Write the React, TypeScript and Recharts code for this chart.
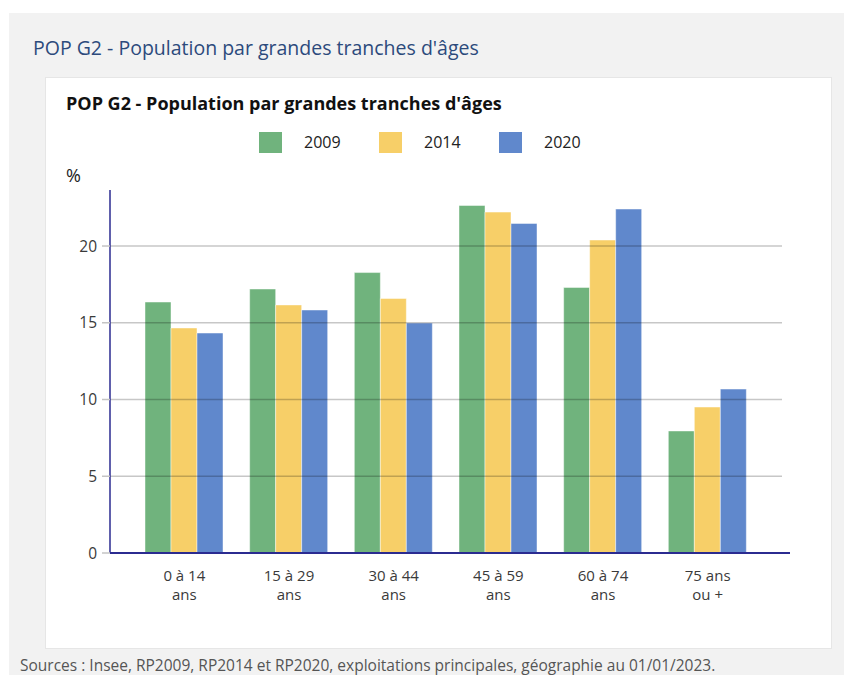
import React from 'react'
import { BarChart, Bar, XAxis, YAxis, ReferenceLine } from 'recharts'

const categories = ['0 à 14\nans', '15 à 29\nans', '30 à 44\nans', '45 à 59\nans', '60 à 74\nans', '75 ans\nou +']
const values2009 = [16.35, 17.2, 18.27, 22.64, 17.3, 7.95]
const values2014 = [14.66, 16.16, 16.58, 22.21, 20.39, 9.51]
const values2020 = [14.33, 15.83, 14.98, 21.47, 22.41, 10.68]
const years = ['2009', '2014', '2020']
const yTicks = [0, 5, 10, 15, 20]

const colors = ['#70b37d', '#f7cf68', '#6088cc']
const font = '"Open Sans", sans-serif'
const axisColor = '#2b2b90'

const data = categories.map((c, i) => ({
  cat: c,
  v2009: values2009[i],
  v2014: values2014[i],
  v2020: values2020[i],
}))

const seriesKeys = ['v2009', 'v2014', 'v2020']

function CatTick(props: any) {
  const { x, y, payload } = props
  const lines = String(payload.value).split('\n')
  return (
    <g>
      {lines.map((l, i) => (
        <text key={i} x={x} y={y + 28 + i * 19} textAnchor="middle" fill="#3a3a3a" fontSize={15} fontFamily={font}>
          {l}
        </text>
      ))}
    </g>
  )
}

// grid line drawn over the bars, stopping a little short of the axis end
function GridLine(props: any) {
  const { x1, y1, x2, y2 } = props
  return <line x1={x1} y1={y1} x2={x2 - 8} y2={y2} stroke="rgba(0,0,0,0.22)" strokeWidth={1.5} />
}

export default function App() {
  return (
    <div style={{ position: 'absolute', left: 0, top: 0, width: 844, height: 675, background: '#fff', fontFamily: font, overflow: 'hidden' }}>
      <div style={{ position: 'absolute', left: 9, top: 13, width: 835, height: 662, background: '#f2f2f2' }} />
      <div style={{ position: 'absolute', left: 33, top: 34, fontSize: 19.5, color: '#2c4a7c', whiteSpace: 'nowrap' }}>
        POP G2 - Population par grandes tranches d'âges
      </div>
      <div style={{ position: 'absolute', left: 45, top: 77, width: 785, height: 570, background: '#fff', border: '1px solid #e6e6e6' }} />
      <div style={{ position: 'absolute', left: 66, top: 91, fontSize: 18, fontWeight: 700, color: '#111', whiteSpace: 'nowrap' }}>
        POP G2 - Population par grandes tranches d'âges
      </div>
      {years.map((yr, i) => (
        <div key={yr} style={{ position: 'absolute', left: 259 + i * 120, top: 131, display: 'flex', alignItems: 'center' }}>
          <div style={{ width: 23, height: 21, background: colors[i] }} />
          <span style={{ marginLeft: 22, fontSize: 16, color: '#222' }}>{yr}</span>
        </div>
      ))}
      <div style={{ position: 'absolute', left: 66, top: 163, fontSize: 18, color: '#222' }}>%</div>
      <div style={{ position: 'absolute', left: 45, top: 77 }}>
        <BarChart
          width={786}
          height={571}
          data={data}
          margin={{ top: 113, right: 41, left: 25, bottom: 35 }}
          barGap={0}
          barSize={26}
        >
          <XAxis
            dataKey="cat"
            height={60}
            tick={<CatTick />}
            tickLine={false}
            tickSize={0}
            tickMargin={0}
            interval={0}
            padding={{ left: 22, right: 30 }}
            axisLine={{ stroke: axisColor, strokeWidth: 2 }}
          />
          <YAxis
            width={40}
            domain={[0, 23.65]}
            ticks={yTicks}
            tickSize={8}
            tickMargin={5}
            tickLine={{ stroke: '#c4c4c4', strokeWidth: 1.5 }}
            axisLine={{ stroke: axisColor, strokeWidth: 1.5 }}
            tick={{ fill: '#3a3a3a', fontSize: 15.5, fontFamily: font }}
          />
          {seriesKeys.map((k, i) => (
            <Bar key={k} dataKey={k} fill={colors[i]} stroke="rgba(255,255,255,0.45)" strokeWidth={1} isAnimationActive={false} />
          ))}
          {yTicks
            .filter((t) => t > 0)
            .map((t) => (
              <ReferenceLine key={t} y={t} shape={<GridLine />} />
            ))}
        </BarChart>
      </div>
      <div style={{ position: 'absolute', left: 20, top: 654, fontSize: 15.5, color: '#555', whiteSpace: 'nowrap' }}>
        Sources : Insee, RP2009, RP2014 et RP2020, exploitations principales, géographie au 01/01/2023.
      </div>
    </div>
  )
}
